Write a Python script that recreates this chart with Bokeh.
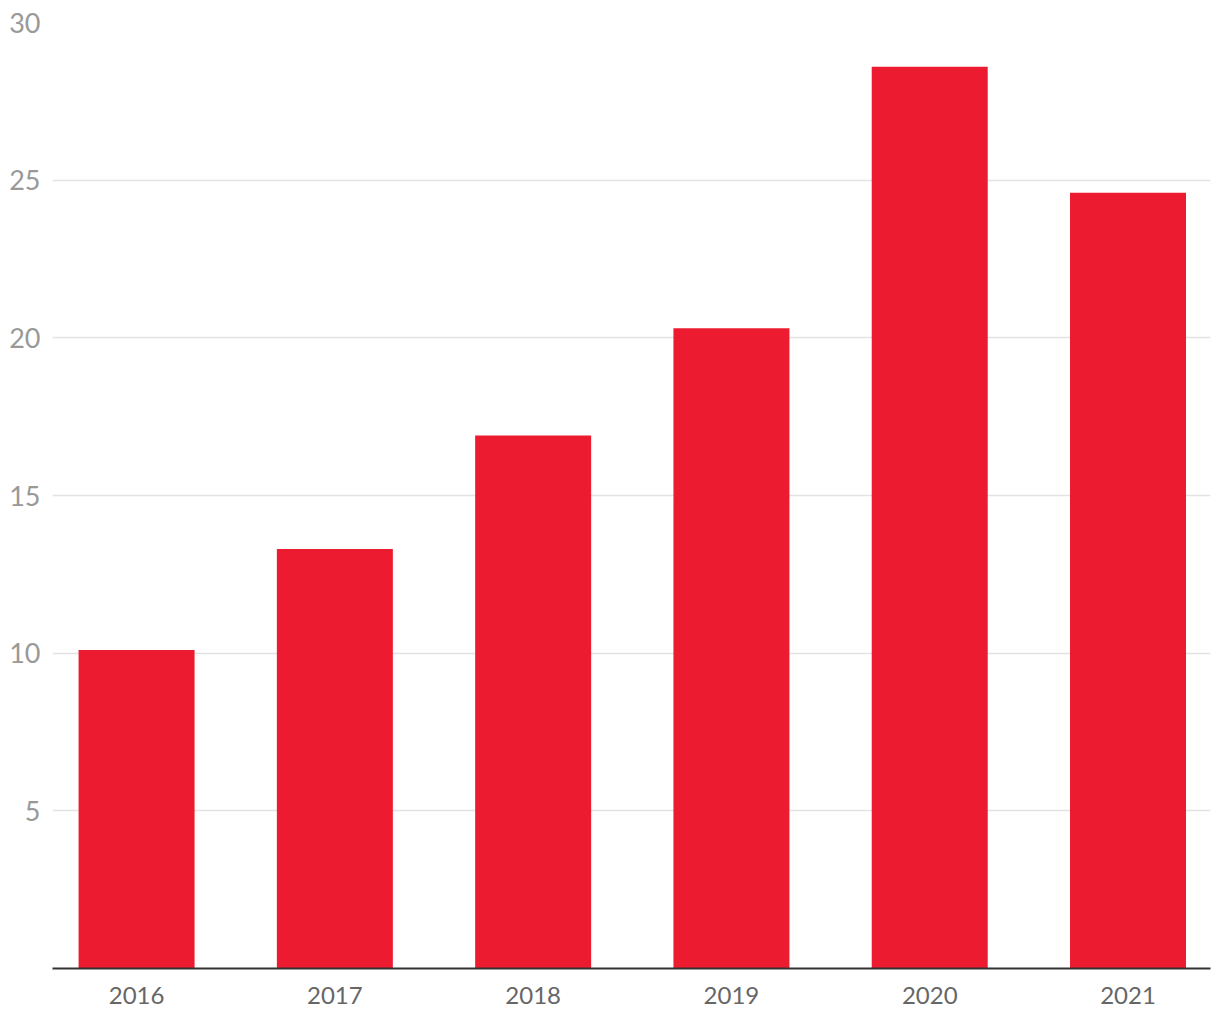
from bokeh.plotting import figure
from bokeh.models import ColumnDataSource, Range1d, FixedTicker
from bokeh.embed import file_html
from bokeh.resources import INLINE

years = ["2016", "2017", "2018", "2019", "2020", "2021"]
values = [10.1, 13.3, 16.9, 20.3, 28.6, 24.6]
y_ticks = [5, 10, 15, 20, 25, 30]

positions = list(range(len(years)))
src = ColumnDataSource(dict(x=positions, top=values, year=years))

p = figure(
    frame_width=1158, frame_height=946,
    x_range=Range1d(-0.424, 5.416), y_range=Range1d(0, 30),
    output_backend="svg", toolbar_location=None,
    min_border_left=52, min_border_right=10, min_border_top=22, min_border_bottom=52,
)
p.outline_line_color = None
p.background_fill_color = "white"
p.border_fill_color = "white"

p.vbar(x="x", top="top", width=0.585, bottom=0, source=src,
       fill_color="#ED1B2F", line_color=None)

# x axis
p.xaxis.ticker = FixedTicker(ticks=positions)
p.xaxis.major_label_overrides = {i: y for i, y in zip(positions, years)}
p.xaxis.axis_line_color = "#333333"
p.xaxis.axis_line_width = 2
p.xaxis.major_tick_line_color = None
p.xaxis.major_tick_out = 0
p.xaxis.minor_tick_line_color = None
p.xaxis.major_label_text_font = "Lato"
p.xaxis.major_label_text_font_size = "24px"
p.xaxis.major_label_text_color = "#666666"
p.xaxis.major_label_standoff = 18
p.xgrid.grid_line_color = None

# y axis
p.yaxis.ticker = FixedTicker(ticks=y_ticks)
p.yaxis.axis_line_color = None
p.yaxis.major_tick_line_color = None
p.yaxis.major_tick_out = 0
p.yaxis.minor_tick_line_color = None
p.yaxis.major_label_text_font = "Lato"
p.yaxis.major_label_text_font_size = "27px"
p.yaxis.major_label_text_color = "#999999"
p.yaxis.major_label_standoff = 12
p.ygrid.ticker = FixedTicker(ticks=y_ticks)
p.ygrid.grid_line_color = "#e3e3e3"
p.ygrid.grid_line_width = 1.5

open("out.html", "w").write(file_html(p, INLINE))
